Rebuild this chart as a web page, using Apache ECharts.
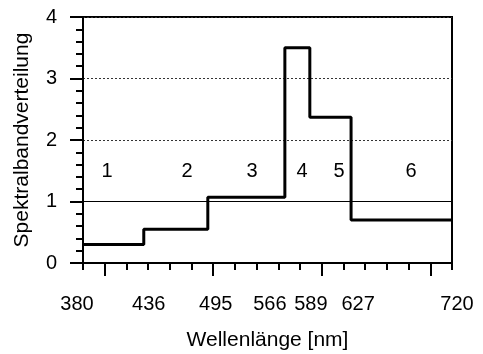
<!DOCTYPE html>
<html>
<head>
<meta charset="utf-8">
<script src="https://cdn.jsdelivr.net/npm/echarts@6/dist/echarts.min.js"></script>
<style>
  html, body { margin: 0; padding: 0; background: #fff; }
  #chart { width: 483px; height: 354px; }
</style>
</head>
<body>
<div id="chart"></div>
<script>
// Spectral band boundaries (nm) and the relative value of each band
const bandEdges = [380, 436, 495, 566, 589, 627, 720];
const bandValues = [0.3, 0.55, 1.07, 3.5, 2.37, 0.7];
// Band numbers and where they are written
const bandNames = ['1', '2', '3', '4', '5', '6'];
const bandNameX = [402, 476, 536, 582, 616, 682];
const bandNameY = 1.5;
// Tick marks along the wavelength axis
const minorTickValues = [380, 400, 420, 440, 460, 480, 500, 520, 540, 560, 580, 600, 620, 640, 660, 680, 700, 720];
const majorTickValues = [400, 500, 600, 700];

const FONT = '"Liberation Sans", Arial, Helvetica, sans-serif';
const INK = '#000';

// small horizontal nudges so neighbouring edge labels don't collide
const labelNudge = { 380: -6, 436: 5, 495: 8, 566: -15, 589: 1, 627: 7, 720: 5 };
const rich = {};
bandEdges.forEach(function (v) {
  const d = labelNudge[v] || 0;
  rich['e' + v] = {
    fontFamily: FONT, fontSize: 20, color: INK,
    padding: d >= 0 ? [0, 0, 0, 2 * d] : [0, -2 * d, 0, 0]
  };
});

// step line: each band holds its value until the next edge
const stepData = bandEdges.map(function (x, i) {
  return [x, bandValues[Math.min(i, bandValues.length - 1)]];
});
const nameData = bandNames.map(function (n, i) { return [bandNameX[i], bandNameY, n]; });

const chart = echarts.init(document.getElementById('chart'), null, { renderer: 'canvas' });
chart.setOption({
  animation: false,
  backgroundColor: '#fff',
  grid: {
    left: 83, top: 17, right: 31, bottom: 91,
    outerBoundsMode: 'none', containLabel: false,
    show: true, borderColor: '#000', borderWidth: 2, backgroundColor: 'transparent'
  },
  xAxis: [{
    type: 'value', min: 380, max: 720, position: 'bottom',
    name: 'Wellenlänge [nm]', nameLocation: 'middle', nameGap: 67,
    nameTextStyle: { fontFamily: FONT, fontSize: 21, color: INK },
    axisLine: { show: true, onZero: false, lineStyle: { color: '#000', width: 2 } },
    axisTick: { show: true, customValues: minorTickValues, length: 7, lineStyle: { color: '#000', width: 2 } },
    axisLabel: {
      customValues: bandEdges, margin: 31,
      fontFamily: FONT, fontSize: 20, color: INK,
      formatter: function (v) { return '{e' + v + '|' + v + '}'; },
      rich: rich
    },
    splitLine: { show: false }
  }, {
    type: 'value', min: 380, max: 720, position: 'bottom',
    axisLine: { show: false },
    axisTick: { show: true, customValues: majorTickValues, length: 13, lineStyle: { color: '#000', width: 2 } },
    axisLabel: { show: false },
    splitLine: { show: false }
  }],
  yAxis: {
    type: 'value', min: 0, max: 4, interval: 1,
    name: 'Spektralbandverteilung', nameLocation: 'middle', nameGap: 50,
    nameTextStyle: { fontFamily: FONT, fontSize: 21, color: INK },
    axisLine: { show: true, lineStyle: { color: '#000', width: 2 } },
    axisTick: { show: true, length: 13, lineStyle: { color: '#000', width: 2 } },
    minorTick: { show: true, splitNumber: 5, length: 7, lineStyle: { color: '#000', width: 2 } },
    axisLabel: { margin: 26, fontFamily: FONT, fontSize: 20, color: INK },
    splitLine: { show: true, lineStyle: { color: '#333', width: 1, type: [2, 2] } }
  },
  series: [{
    type: 'line',
    step: 'end',
    data: stepData,
    symbol: 'none',
    lineStyle: { color: '#000', width: 3 },
    z: 5,
    markLine: {
      silent: true, symbol: 'none', label: { show: false },
      lineStyle: { color: '#000', width: 1, type: 'solid' },
      data: [{ yAxis: 1 }]
    }
  }, {
    // band numbers written inside the plot
    type: 'custom',
    data: nameData,
    silent: true,
    z: 6,
    renderItem: function (params, api) {
      const p = api.coord([api.value(0), api.value(1)]);
      return {
        type: 'text',
        style: {
          x: Math.round(p[0]), y: Math.round(p[1]),
          text: nameData[params.dataIndex][2],
          fill: INK,
          font: '20px ' + FONT,
          align: 'center', verticalAlign: 'middle'
        }
      };
    }
  }]
});
</script>
</body>
</html>
